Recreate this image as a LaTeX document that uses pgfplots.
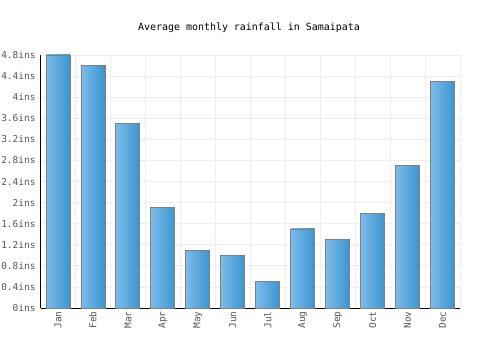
\documentclass[border=0pt]{standalone}
\usepackage{pgfplots}
\pgfplotsset{compat=1.18}
\usepackage{fontspec}
\setmainfont{DejaVu Sans Mono}
\setmonofont{DejaVu Sans Mono}
\definecolor{barL}{HTML}{7DBBEB}
\definecolor{barR}{HTML}{3A95CF}
\definecolor{gridc}{HTML}{EEEEEE}
\definecolor{tickc}{HTML}{555555}
\pgfplotsset{mybar/.style={ybar, bar width=24bp, bar shift=0pt, draw=gray, line width=0.8pt, left color=barL, right color=barR}}
\begin{document}
\begin{tikzpicture}
\path[use as bounding box] (0bp,0bp) rectangle (500bp,350bp);
\node[font=\fontsize{10}{12}\selectfont] at (249bp,322bp) {Average monthly rainfall in Samaipata};
\begin{axis}[
  at={(40.5bp,42bp)}, anchor=south west,
  width=419.5bp, height=253bp, scale only axis,
  xmin=-0.5, xmax=11.5, ymin=0, ymax=4.8,
  axis x line*=bottom, axis y line*=left,
  axis line style={black, line width=0.9pt},
  xtick={0,...,11},
  xticklabels={Jan,Feb,Mar,Apr,May,Jun,Jul,Aug,Sep,Oct,Nov,Dec},
  x tick label style={rotate=90, anchor=east, font=\fontsize{9.5}{11}\selectfont, text=tickc, xshift=0bp, yshift=0bp},
  minor xtick={-0.5,0.5,...,11.5},
  xminorgrids, yminorgrids=false,
  minor grid style={gridc, line width=0.8pt},
  ytick={0,0.4,0.8,1.2,1.6,2,2.4,2.8,3.2,3.6,4,4.4,4.8},
  yticklabels={0ins,0.4ins,0.8ins,1.2ins,1.6ins,2ins,2.4ins,2.8ins,3.2ins,3.6ins,4ins,4.4ins,4.8ins},
  y tick label style={font=\fontsize{9.5}{11}\selectfont, text=tickc, xshift=-1.5bp},
  ymajorgrids, major grid style={gridc, line width=0.8pt},
  major tick length=0pt, minor tick length=0pt,
  tick style={draw=none},
  clip=false,
  /pgf/number format/assume math mode=true,
]
\draw[gridc, line width=0.8pt] (axis cs:-0.5,4.8) -- (axis cs:11.5,4.8);
\draw[gridc, line width=0.8pt] (axis cs:11.5,0) -- (axis cs:11.5,4.8);
\addplot[mybar] coordinates {(0,4.8)};
\addplot[mybar] coordinates {(1,4.6)};
\addplot[mybar] coordinates {(2,3.5)};
\addplot[mybar] coordinates {(3,1.9)};
\addplot[mybar] coordinates {(4,1.1)};
\addplot[mybar] coordinates {(5,1.0)};
\addplot[mybar] coordinates {(6,0.5)};
\addplot[mybar] coordinates {(7,1.5)};
\addplot[mybar] coordinates {(8,1.3)};
\addplot[mybar] coordinates {(9,1.8)};
\addplot[mybar] coordinates {(10,2.7)};
\addplot[mybar] coordinates {(11,4.3)};
\end{axis}
\end{tikzpicture}
\end{document}
